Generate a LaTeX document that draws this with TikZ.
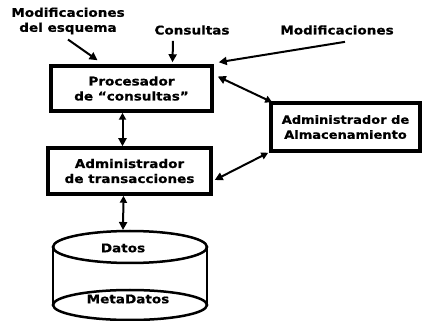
\documentclass[tikz,border=0pt]{standalone}
\usepackage{fontspec}
\setmainfont{DejaVu Sans}[BoldFeatures={FakeStretch=1.13,FakeBold=0.6}]
\usetikzlibrary{arrows.meta}
\begin{document}
\begin{tikzpicture}[x=1pt,y=-1pt,
    txt/.style={align=center,inner sep=0pt,font=\bfseries\fontsize{12}{15}\selectfont},
    caja/.style={txt,draw,line width=3.5pt},
    flecha/.style={line width=2pt,-{Triangle[length=8pt,width=8pt]}},
    doble/.style={line width=2pt,{Triangle[length=7pt,width=7pt]}-{Triangle[length=8pt,width=8pt]}}]
  \useasboundingbox (0,0) rectangle (424,321);
  % cajas
  \node[caja,minimum width=161pt,minimum height=45pt] (proc) at (131.5,88.5) {Procesador\\de ``consultas''};
  \node[caja,minimum width=163pt,minimum height=46pt] (trans) at (129.5,171) {Administrador\\de transacciones};
  \node[caja,minimum width=149pt,minimum height=48pt,font=\bfseries\fontsize{11.5}{15}\selectfont] (alm) at (345.5,127) {Administrador de\\Almacenamiento};
  % entradas de arriba
  \node[txt] (mesq) at (68,21) {Modificaciones\\del esquema};
  \node[txt] (cons) at (192,30) {Consultas};
  \node[txt] (modif) at (337,30) {Modificaciones};
  \draw[flecha] ([xshift=0pt,yshift=-5pt]mesq.south) -- ([xshift=-34pt,yshift=4pt]proc.north);
  \draw[flecha] ([xshift=-19pt,yshift=-6pt]cons.south) -- ([xshift=41pt,yshift=2pt]proc.north);
  \draw[flecha] ([xshift=8pt,yshift=-7pt]modif.south) -- ([xshift=5pt,yshift=2pt]proc.north east);
  % almacenamiento
  \draw[doble] ([xshift=3pt,yshift=-1pt]alm.north west) -- ([xshift=4pt,yshift=12pt]proc.east);
  \draw[doble] ([xshift=-1pt]alm.south west) -- ([xshift=2pt,yshift=-9pt]trans.east);
  % base de datos
  \draw[line width=2.5pt] (53,247) -- (53,305) (207,247) -- (207,305);
  \draw[line width=2.5pt,fill=white] (130,305) ellipse (77 and 15);
  \draw[line width=2.5pt,fill=white] (130,247) ellipse (77 and 16);
  \coordinate (tope) at (123,230);
  \node[txt] (datos) at (123,248) {Datos};
  \node[txt] (meta) at (128,299) {MetaDatos};
  \draw[doble] ([xshift=-9pt]proc.south) -- ([xshift=-7pt]trans.north);
  \draw[doble] ([xshift=-6pt]trans.south) -- (tope);
\end{tikzpicture}
\end{document}
